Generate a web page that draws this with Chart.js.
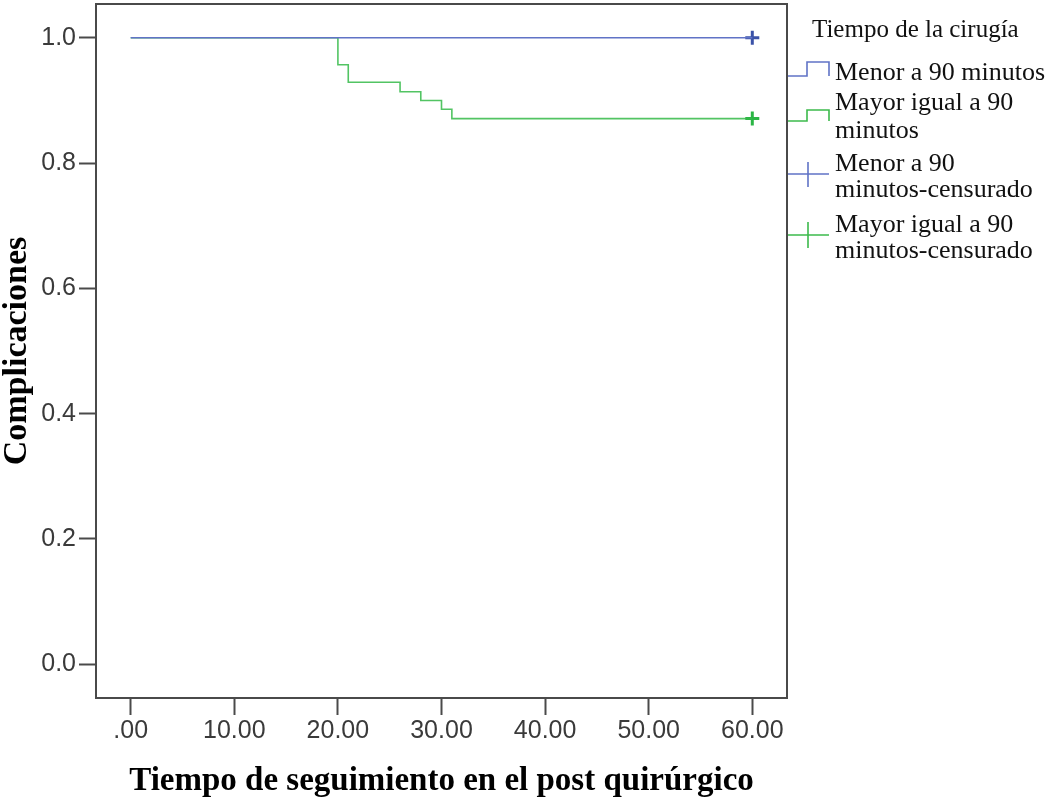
<!DOCTYPE html>
<html>
<head>
<meta charset="utf-8">
<script src="https://cdn.jsdelivr.net/npm/chart.js@4/dist/chart.umd.min.js"></script>
<style>
  html, body { margin: 0; padding: 0; background: #ffffff; }
  #wrap { width: 1049px; height: 798px; }
</style>
</head>
<body>
<div id="wrap"><canvas id="km" width="1049" height="798"></canvas></div>
<script>
// Kaplan-Meier curves: follow-up time (days) and cumulative proportion without complications
const shortTimes = [0, 60];
const shortSurv = [1.0, 1.0];
const longTimes = [0, 20, 21, 26, 28, 30, 31, 60];
const longSurv = [1.0, 0.957, 0.929, 0.914, 0.900, 0.886, 0.871, 0.871];

// censored observations (end of follow-up)
const shortCensorTimes = [60];
const shortCensorSurv = [1.0];
const longCensorTimes = [60];
const longCensorSurv = [0.871];

// axis ticks
const xTicks = [0, 10, 20, 30, 40, 50, 60];
const xTickLabels = ['.00', '10.00', '20.00', '30.00', '40.00', '50.00', '60.00'];
const yTicks = [0, 0.2, 0.4, 0.6, 0.8, 1.0];
const yTickLabels = ['0.0', '0.2', '0.4', '0.6', '0.8', '1.0'];

// legend text
const legendTitle = 'Tiempo de la cirugía';
const legendLabels = [
  ['Menor a 90 minutos'],
  ['Mayor igual a 90', 'minutos'],
  ['Menor a 90', 'minutos-censurado'],
  ['Mayor igual a 90', 'minutos-censurado']
];

const BLUE_LINE = '#6073c6';
const GREEN_LINE = 'rgba(52, 186, 72, 0.85)';
const BLUE_MARK = '#3a52a8';
const GREEN_MARK = '#2bb545';
const FRAME = '#4a4a4a';
const SERIF = "'Liberation Serif', 'Times New Roman', serif";
const SANS = "'Liberation Sans', Arial, sans-serif";

const pts = (xs, ys) => xs.map((x, i) => ({ x: x, y: ys[i] }));

// box frame around the plot area
const framePlugin = {
  id: 'frame',
  afterDraw(chart) {
    const { ctx, chartArea: a } = chart;
    ctx.save();
    ctx.strokeStyle = FRAME;
    ctx.lineWidth = 2;
    ctx.strokeRect(a.left, a.top, a.right - a.left, a.bottom - a.top);
    ctx.restore();
  }
};

// legend on the right with step and censor-mark symbols
const legendPlugin = {
  id: 'kmLegend',
  afterDraw(chart) {
    const { ctx } = chart;
    const x0 = chart.chartArea.right + 1;
    ctx.save();
    ctx.fillStyle = '#111';
    ctx.textBaseline = 'alphabetic';
    ctx.textAlign = 'left';
    ctx.font = '25px ' + SERIF;
    ctx.fillText(legendTitle, 812, 37);

    ctx.font = '26px ' + SERIF;
    const baselines = [[80], [110, 138], [171, 197], [232, 258]];
    legendLabels.forEach((lines, i) => {
      lines.forEach((t, j) => ctx.fillText(t, 835, baselines[i][j]));
    });

    ctx.lineWidth = 1.6;
    const step = (color, yLow, yHigh) => {
      ctx.strokeStyle = color;
      ctx.beginPath();
      ctx.moveTo(x0, yLow);
      ctx.lineTo(807, yLow);
      ctx.lineTo(807, yHigh);
      ctx.lineTo(829, yHigh);
      ctx.lineTo(829, yLow);
      ctx.stroke();
    };
    step(BLUE_LINE, 76, 62);
    step('#3cba4c', 121, 110);

    const plus = (color, y, top, bottom) => {
      ctx.strokeStyle = color;
      ctx.beginPath();
      ctx.moveTo(x0, y);
      ctx.lineTo(829, y);
      ctx.moveTo(808, top);
      ctx.lineTo(808, bottom);
      ctx.stroke();
    };
    plus(BLUE_LINE, 174, 162, 187);
    plus('#3cba4c', 235, 222, 248);
    ctx.restore();
  }
};

new Chart(document.getElementById('km'), {
  type: 'scatter',
  data: {
    datasets: [
      {
        label: 'Menor a 90 minutos',
        data: pts(shortTimes, shortSurv),
        showLine: true,
        stepped: 'before',
        borderColor: BLUE_LINE,
        borderWidth: 1.6,
        pointRadius: 0,
        fill: false
      },
      {
        label: 'Mayor igual a 90 minutos',
        data: pts(longTimes, longSurv),
        showLine: true,
        stepped: 'before',
        borderColor: GREEN_LINE,
        borderWidth: 1.6,
        pointRadius: 0,
        fill: false
      },
      {
        label: 'Menor a 90 minutos-censurado',
        data: pts(shortCensorTimes, shortCensorSurv),
        showLine: false,
        pointStyle: 'cross',
        pointRadius: 7,
        pointBorderWidth: 3,
        borderColor: BLUE_MARK,
        backgroundColor: BLUE_MARK
      },
      {
        label: 'Mayor igual a 90 minutos-censurado',
        data: pts(longCensorTimes, longCensorSurv),
        showLine: false,
        pointStyle: 'cross',
        pointRadius: 7,
        pointBorderWidth: 3,
        borderColor: GREEN_MARK,
        backgroundColor: GREEN_MARK
      }
    ]
  },
  options: {
    responsive: false,
    animation: false,
    layout: { autoPadding: false, padding: { left: 0, top: 4, right: 262, bottom: 0 } },
    plugins: {
      legend: { display: false },
      tooltip: { enabled: false }
    },
    scales: {
      x: {
        type: 'linear',
        min: -3.35,
        max: 63.35,
        afterBuildTicks: (axis) => { axis.ticks = xTicks.map(v => ({ value: v })); },
        afterFit: (axis) => {
          axis.height = 100;
          axis.paddingLeft = 0;
          axis.paddingRight = 0;
        },
        ticks: {
          callback: (v, i) => xTickLabels[i],
          font: { family: SANS, size: 25 },
          color: '#3a3a3a',
          padding: 1,
          maxRotation: 0,
          autoSkip: false
        },
        grid: {
          display: true,
          drawOnChartArea: false,
          drawTicks: true,
          tickLength: 17,
          tickWidth: 2,
          tickColor: FRAME
        },
        border: { display: false },
        title: {
          display: true,
          text: 'Tiempo de seguimiento en el post quirúrgico',
          font: { family: SERIF, size: 33, weight: 'bold', lineHeight: 1 },
          color: '#000',
          padding: { top: 2.5, bottom: 0 }
        }
      },
      y: {
        type: 'linear',
        min: -0.054,
        max: 1.054,
        afterBuildTicks: (axis) => { axis.ticks = yTicks.map(v => ({ value: v })); },
        afterFit: (axis) => {
          axis.width = 96;
          axis.paddingTop = 0;
          axis.paddingBottom = 0;
        },
        ticks: {
          callback: (v, i) => yTickLabels[i],
          font: { family: SANS, size: 25 },
          color: '#3a3a3a',
          padding: 3,
          autoSkip: false
        },
        grid: {
          display: true,
          drawOnChartArea: false,
          drawTicks: true,
          tickLength: 17,
          tickWidth: 2,
          tickColor: FRAME
        },
        border: { display: false },
        title: {
          display: true,
          text: 'Complicaciones',
          font: { family: SERIF, size: 34, weight: 'bold', lineHeight: 1 },
          color: '#000',
          padding: { top: 0, bottom: 0 }
        }
      }
    }
  },
  plugins: [framePlugin, legendPlugin]
});
</script>
</body>
</html>
